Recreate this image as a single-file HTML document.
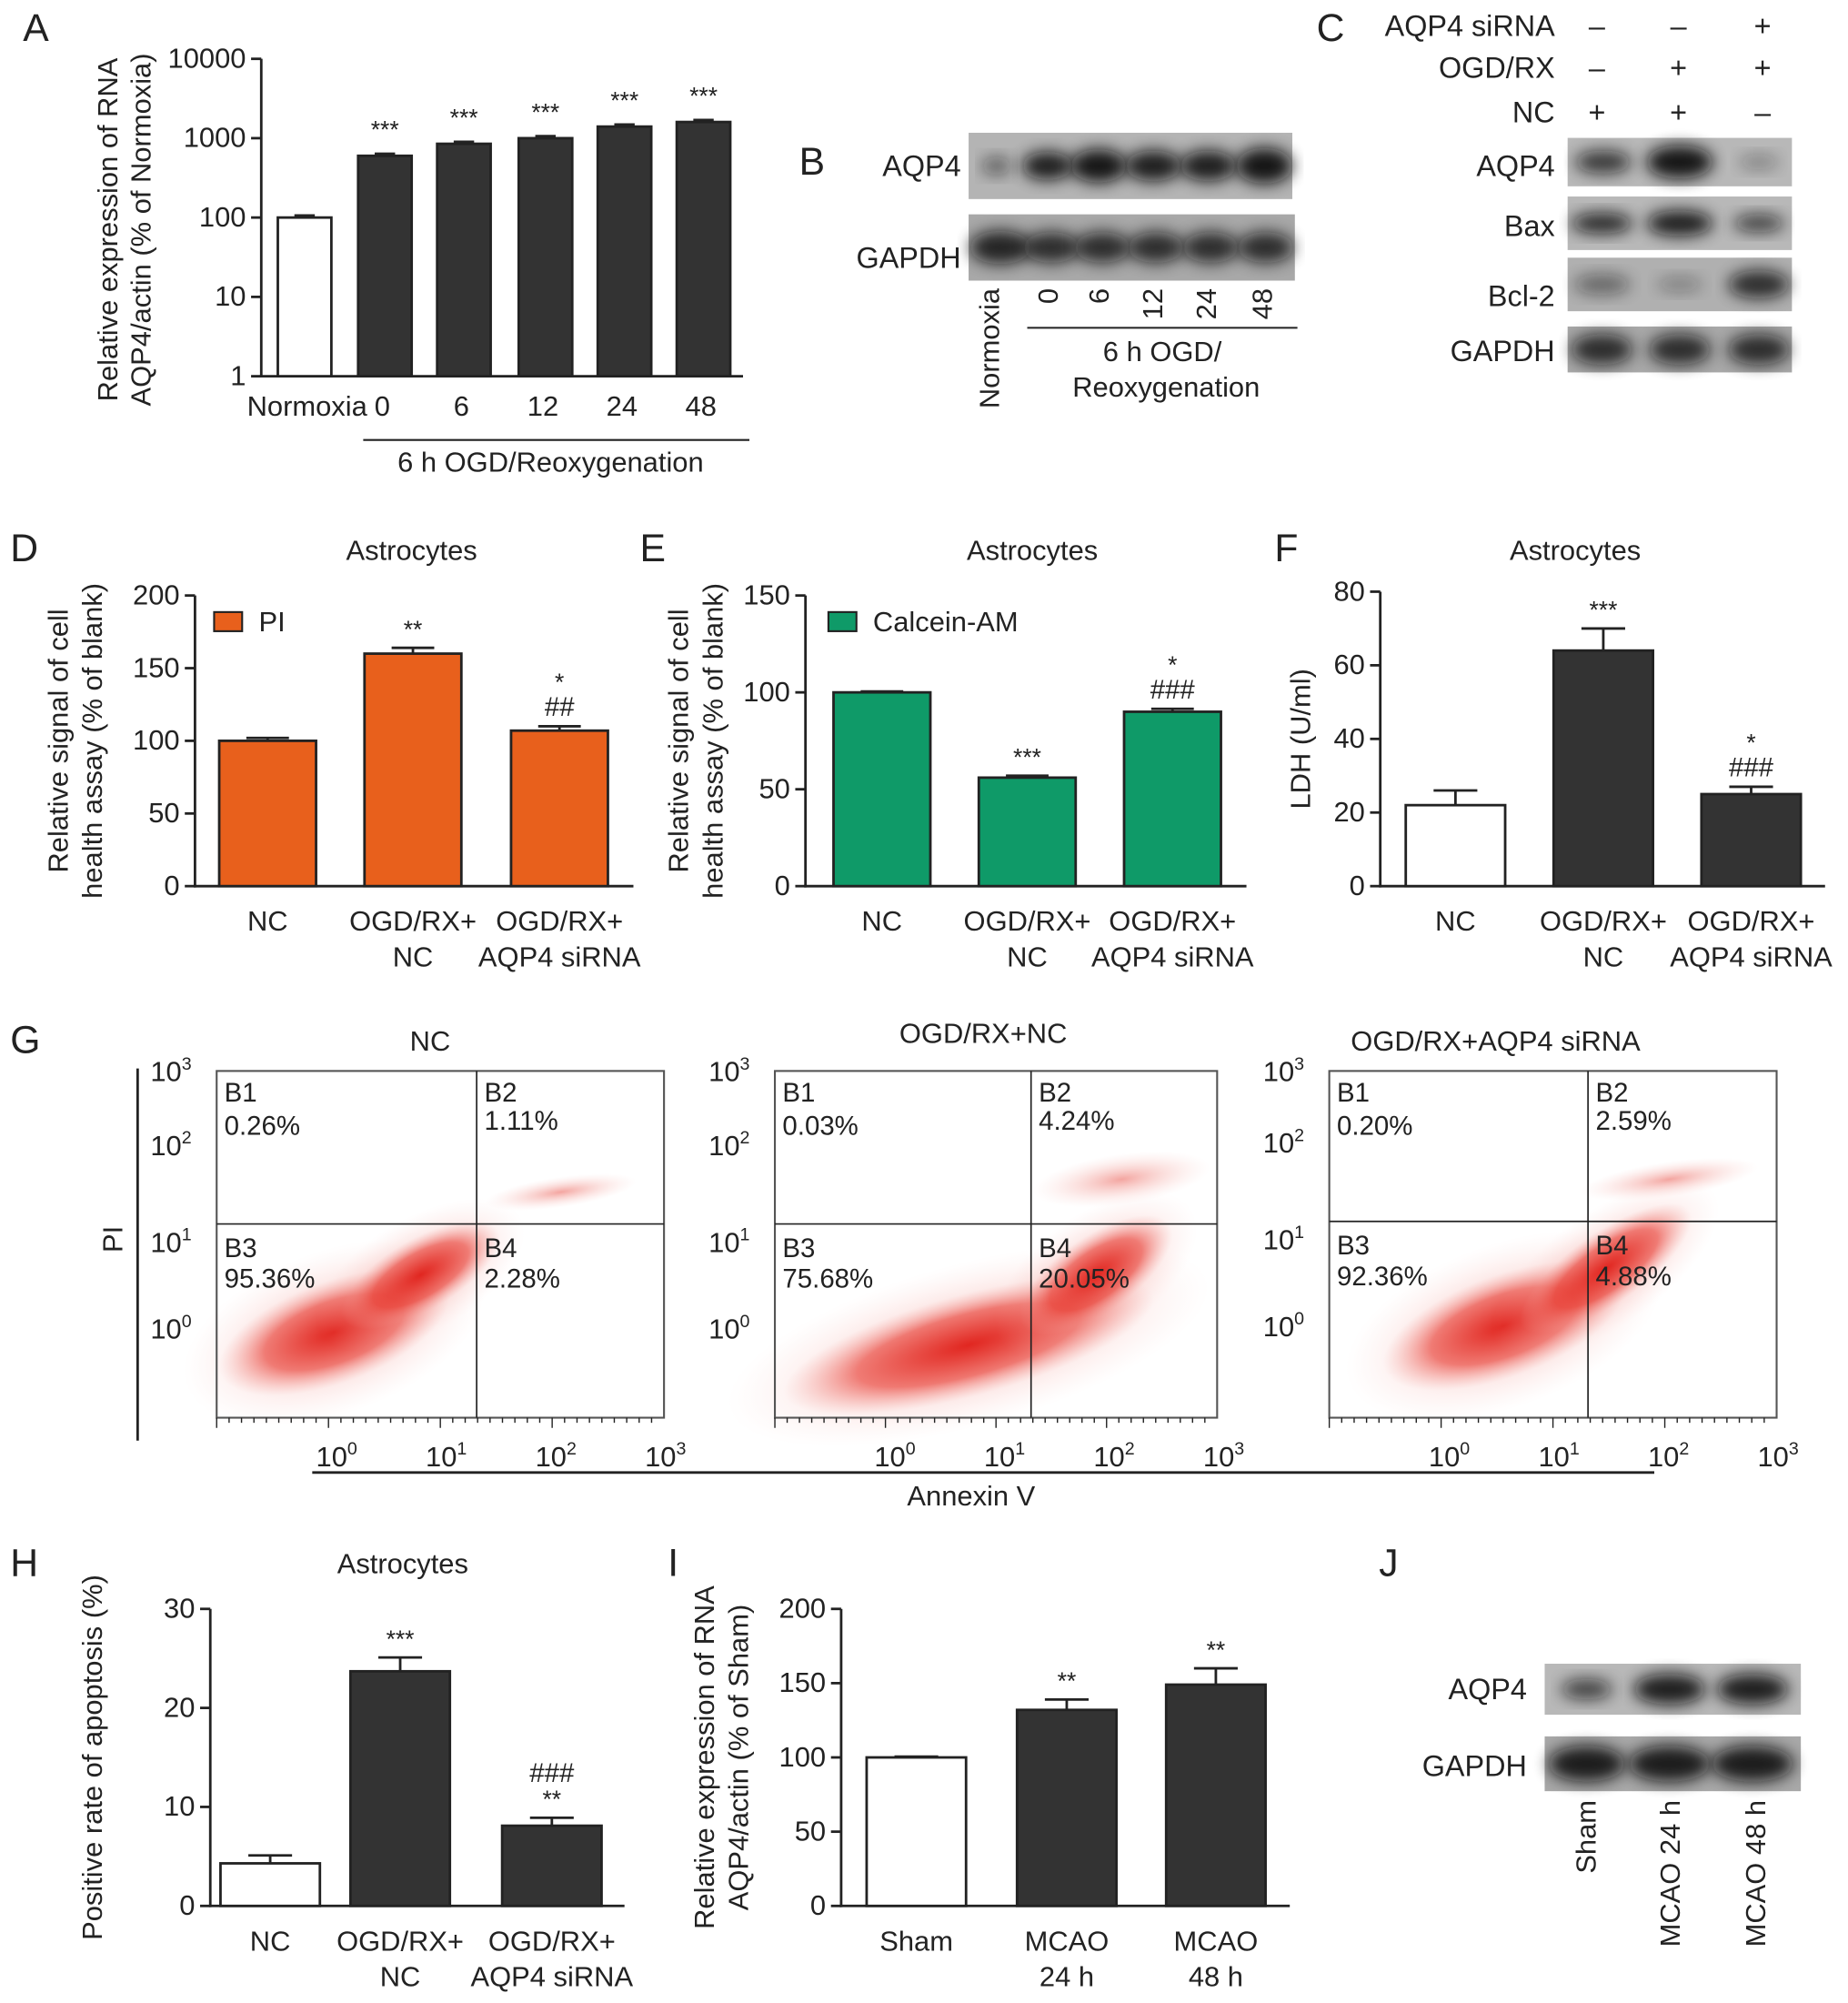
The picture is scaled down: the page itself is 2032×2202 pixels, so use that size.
<!DOCTYPE html>
<html><head><meta charset="utf-8"><style>
html,body{margin:0;padding:0;background:#fff}
svg{display:block}
text{font-family:"Liberation Sans",sans-serif;fill:#222}
</style></head><body>
<svg id="fig" width="2032" height="2202" viewBox="0 0 1450 1571" xmlns="http://www.w3.org/2000/svg">
<defs>
<filter id="blur" x="-20%" y="-50%" width="140%" height="200%"><feGaussianBlur stdDeviation="6"/></filter>
<radialGradient id="red1"><stop offset="0" stop-color="#e0201a" stop-opacity="0.95"/><stop offset="0.6" stop-color="#e83a30" stop-opacity="0.6"/><stop offset="1" stop-color="#f4a09a" stop-opacity="0"/></radialGradient>
<radialGradient id="red2"><stop offset="0" stop-color="#e84a40" stop-opacity="0.5"/><stop offset="1" stop-color="#f8c0bb" stop-opacity="0"/></radialGradient>
</defs>
<g id="root"></g>
</svg>
<script>
// ---------- data ----------
const aCats = ["Normoxia","0","6","12","24","48"];
const aVals = [100,600,850,1000,1400,1600];
const aStars = ["","***","***","***","***","***"];
const dCats = [["NC"],["OGD/RX+","NC"],["OGD/RX+","AQP4 siRNA"]];
const dVals = [100,160,107];
const dErr = [2,4,3];
const dMarks = [[],["**"],["*","##"]];
const eVals = [100,56,90];
const eErr = [0.5,1,1.5];
const eMarks = [[],["***"],["*","###"]];
const fVals = [22,64,25];
const fErr = [4,6,2];
const fMarks = [[],["***"],["*","###"]];
const hVals = [4.3,23.7,8.1];
const hErr = [0.8,1.4,0.8];
const hMarks = [[],["***"],["###","**"]];
const iCats = [["Sham"],["MCAO","24 h"],["MCAO","48 h"]];
const iVals = [100,132,149];
const iErr = [0.5,7,11];
const iMarks = [[],["**"],["**"]];
const dTicks = [0,50,100,150,200];
const eTicks = [0,50,100,150];
const fTicks = [0,20,40,60,80];
const hTicks = [0,10,20,30];
const iTicks = [0,50,100,150,200];
const gTitles = ["NC","OGD/RX+NC","OGD/RX+AQP4 siRNA"];
const gQuads = [["0.26%","1.11%","95.36%","2.28%"],["0.03%","4.24%","75.68%","20.05%"],["0.20%","2.59%","92.36%","4.88%"]];

const NS="http://www.w3.org/2000/svg";
const root=document.getElementById('root');
function el(tag,attrs,parent,txt){const e=document.createElementNS(NS,tag);for(const k in attrs)e.setAttribute(k,attrs[k]);if(txt!==undefined)e.textContent=txt;(parent||root).appendChild(e);return e;}
function txt(x,y,s,size,anchor,parent,name,rot){const t=el('text',{x:x,y:y,'font-size':(size||21)*1.05,'text-anchor':anchor||'middle'},parent,s);


if(rot)t.setAttribute('transform','rotate('+rot+' '+x+' '+y+')');return t;}
function line(x1,y1,x2,y2,w,parent){return el('line',{x1:x1,y1:y1,x2:x2,y2:y2,stroke:'#222','stroke-width':w||2},parent);}

// panel letters
[["A",18,32],["B",627,137],["C",1033,32],["D",8,440],["E",502,440],["F",1000,440],["G",8,826],["H",8,1236],["I",524,1236],["J",1082,1236]].forEach(p=>{txt(p[1],p[2],p[0],29,'start',root,'panel-letter-'+p[0].toLowerCase());});

// ---------- Panel A (log) ----------
(function(){
 const g=el('g',{});
 
 
 const x0=205,yb=295,yt=46,lmin=0,lmax=4;
 const y=v=>yb-(Math.log10(v)-lmin)/(lmax-lmin)*(yb-yt);
 const xc=[239,302,364,428,490,552], bw=42;
 line(x0,yt,x0,yb+1,2,g); line(x0-1,yb,583,yb,2,g);
 [1,10,100,1000,10000].forEach(v=>{line(x0-8,y(v),x0,y(v),2,g);txt(x0-12,y(v)+7,String(v),21,'end',g,'y-tick-label');});
 aVals.forEach((v,i)=>{
  const r=el('rect',{x:xc[i]-bw/2,y:y(v),width:bw,height:yb-y(v),fill:i==0?'#fff':'#333',stroke:'#222','stroke-width':2},g);
  
  
  line(xc[i]-8,y(v*1.06),xc[i]+8,y(v*1.06),2,g);
  if(aStars[i])txt(xc[i],y(v)-14,aStars[i],18,'middle',g,'significance');
  txt(i==0?xc[i]+2:xc[i]-2,326,aCats[i],21,'middle',g,'x-tick-label');
 });
 line(285,345,588,345,1.5,g);
 txt(432,370,'6 h OGD/Reoxygenation',21,'middle',g,'x-axis-group-label');
 txt(92,180,'Relative expression of RNA',21,'middle',g,'y-axis-title',-90);
 txt(118,180,'AQP4/actin (% of Normoxia)',21,'middle',g,'y-axis-title',-90);
})();

// ---------- blots ----------
function blot(x,y,w,h,bands,bg,name){
 const g=el('g',{});
 
 
 el('rect',{x:x,y:y,width:w,height:h,fill:bg},g);
 bands.forEach(b=>{el('ellipse',{cx:b[0],cy:y+h/2,rx:b[1],ry:b[2],fill:'#111',opacity:b[3],filter:'url(#blur)'},g);});
 return g;
}
blot(760,104,254,52,[[782,12,7,0.5],[822,20,11,0.9],[862,22,13,0.95],[905,22,12,0.9],[948,22,12,0.9],[992,22,14,0.95]],'#b4b4b4','blot-b-aqp4');
blot(760,168,256,52,[[785,24,13,0.85],[825,22,12,0.8],[865,22,12,0.8],[907,22,12,0.8],[950,22,12,0.8],[993,22,12,0.8]],'#a8a8a8','blot-b-gapdh');
txt(754,138,'AQP4',22,'end',root,'blot-label');
txt(754,210,'GAPDH',22,'end',root,'blot-label');
["Normoxia","0","6","12","24","48"].forEach((s,i)=>{const xs=[784,830,870,912,954,998];txt(xs[i],226,s,21,'end',root,'lane-label',-90);});
line(806,257,1018,257,1.5);
txt(912,283,'6 h OGD/',21,'middle',root,'lane-group-label');
txt(915,311,'Reoxygenation',21,'middle',root,'lane-group-label');

// Panel C
[["AQP4 siRNA",28,["–","–","+"]],["OGD/RX",61,["–","+","+"]],["NC",96,["+","+","–"]]].forEach(r=>{
 txt(1220,r[1],r[0],22,'end',root,'condition-label');
 r[2].forEach((s,i)=>txt([1253,1317,1383][i],r[1],s,22,'middle',root,'condition-sign'));
});
blot(1230,108,176,38,[[1258,22,9,0.75],[1318,26,13,0.95],[1380,16,6,0.3]],'#b8b8b8','blot-c-aqp4');
blot(1230,154,176,42,[[1257,24,8,0.85],[1318,26,10,0.9],[1380,20,7,0.7]],'#b8b8b8','blot-c-bax');
blot(1230,202,176,42,[[1257,22,8,0.45],[1318,18,6,0.3],[1380,24,11,0.8]],'#b0b0b0','blot-c-bcl2');
blot(1230,256,176,36,[[1257,24,12,0.8],[1318,24,12,0.8],[1380,24,12,0.8]],'#a8a8a8','blot-c-gapdh');
txt(1220,138,'AQP4',22,'end',root,'blot-label');
txt(1220,185,'Bax',22,'end',root,'blot-label');
txt(1220,240,'Bcl-2',22,'end',root,'blot-label');
txt(1220,283,'GAPDH',22,'end',root,'blot-label');

// ---------- generic bar chart ----------
function barChart(o){
 const g=el('g',{});
 
 
 const y=v=>o.yb-(v/o.max)*(o.yb-o.yt);
 line(o.x0,y(o.max),o.x0,o.yb+1,2,g); line(o.x0-1,o.yb,o.x1,o.yb,2,g);
 o.ticks.forEach(v=>{line(o.x0-8,y(v),o.x0,y(v),2,g);txt(o.x0-12,y(v)+7,String(v),21,'end',g,'y-tick-label');});
 o.vals.forEach((v,i)=>{
  const xc=o.xc[i];
  line(xc,y(v),xc,y(v+o.err[i]),2,g);
  line(xc-o.bw*0.22,y(v+o.err[i]),xc+o.bw*0.22,y(v+o.err[i]),2,g);
  const r=el('rect',{x:xc-o.bw/2,y:y(v),width:o.bw,height:o.yb-y(v),fill:o.fills[i],stroke:'#222','stroke-width':2},g);
  
  
  const m=o.marks[i];
  m.forEach((s,k)=>{txt(xc,y(v+o.err[i])-8-(m.length-1-k)*20,s,s.indexOf('#')>=0?20:18,'middle',g,'significance');});
  o.cats[i].forEach((s,k)=>txt(xc,o.yb+35+k*28,s,21,'middle',g,'x-tick-label'));
 });
 if(o.title)txt(o.titleX,439,o.title,21,'middle',g,'chart-title');
 o.ylab.forEach((s,k)=>txt(o.ylabX+k*27,(o.yt+o.yb)/2,s,21,'middle',g,'y-axis-title',-90));
 return g;
}
barChart({name:'panel-d-chart',x0:153,x1:497,yb:695,yt:467,max:200,ticks:dTicks,vals:dVals,err:dErr,marks:dMarks,cats:dCats,xc:[210,324,439],bw:76,fills:['#e8601c','#e8601c','#e8601c'],title:'Astrocytes',titleX:323,ylab:['Relative signal of cell','health assay (% of blank)'],ylabX:53});
el('rect',{x:168,y:480,width:22,height:15,fill:'#e8601c',stroke:'#222','stroke-width':1.5});
txt(203,495,'PI',21,'start',root,'legend-entry-pi');
barChart({name:'panel-e-chart',x0:632,x1:978,yb:695,yt:467,max:150,ticks:eTicks,vals:eVals,err:eErr,marks:eMarks,cats:dCats,xc:[692,806,920],bw:76,fills:['#0f9a68','#0f9a68','#0f9a68'],title:'Astrocytes',titleX:810,ylab:['Relative signal of cell','health assay (% of blank)'],ylabX:540});
el('rect',{x:650,y:480,width:22,height:15,fill:'#0f9a68',stroke:'#222','stroke-width':1.5});
txt(685,495,'Calcein-AM',21,'start',root,'legend-entry-calcein');
barChart({name:'panel-f-chart',x0:1083,x1:1432,yb:695,yt:464,max:80,ticks:fTicks,vals:fVals,err:fErr,marks:fMarks,cats:dCats,xc:[1142,1258,1374],bw:78,fills:['#fff','#333','#333'],title:'Astrocytes',titleX:1236,ylab:['LDH (U/ml)'],ylabX:1028});
barChart({name:'panel-h-chart',x0:165,x1:490,yb:1495,yt:1262,max:30,ticks:hTicks,vals:hVals,err:hErr,marks:hMarks,cats:dCats,xc:[212,314,433],bw:78,fills:['#fff','#333','#333'],title:null,ylab:['Positive rate of apoptosis (%)'],ylabX:80});
txt(316,1234,'Astrocytes',21,'middle',root,'chart-title');
barChart({name:'panel-i-chart',x0:660,x1:1012,yb:1495,yt:1262,max:200,ticks:iTicks,vals:iVals,err:iErr,marks:iMarks,cats:iCats,xc:[719,837,954],bw:78,fills:['#fff','#333','#333'],title:null,ylab:['Relative expression of RNA','AQP4/actin (% of Sham)'],ylabX:560});

// ---------- Panel G flow plots ----------
const gBoxes=[[170,521,840,1112,374,960],[608,955,840,1112,809,960],[1043,1394,840,1112,1246,958]];
const gBlobs=[[[262,1045,95,40,-20],[330,1000,70,28,-30]],[[760,1055,150,40,-15],[860,1000,70,30,-35]],[[1180,1040,100,40,-20],[1260,995,80,28,-35]]];
const gUpper=[[440,935,60,12],[880,925,70,20],[1310,925,70,14]];
gBoxes.forEach((b,p)=>{
 const g=el('g',{});
 
 
 const [l,r,t,bt,qx,qy]=b;
 gBlobs[p].forEach(e=>{el('ellipse',{cx:e[0],cy:e[1],rx:e[2]*1.3,ry:e[3]*1.6,fill:'url(#red2)',transform:'rotate('+e[4]+' '+e[0]+' '+e[1]+')'},g);
  el('ellipse',{cx:e[0],cy:e[1],rx:e[2],ry:e[3],fill:'url(#red1)',transform:'rotate('+e[4]+' '+e[0]+' '+e[1]+')'},g);});
 const u=gUpper[p];el('ellipse',{cx:u[0],cy:u[1],rx:u[2],ry:u[3],fill:'url(#red2)',transform:'rotate(-8 '+u[0]+' '+u[1]+')'},g);
 el('rect',{x:l,y:t,width:r-l,height:bt-t,fill:'none',stroke:'#555','stroke-width':1.5},g);
 line(qx,t,qx,bt,1.2,g); line(l,qy,r,qy,1.2,g);
 const q=gQuads[p];
 txt(l+6,t+24,'B1',20,'start',g,'quadrant-label');txt(l+6,t+50,q[0],20,'start',g,'quadrant-value');
 txt(qx+6,t+24,'B2',20,'start',g,'quadrant-label');txt(qx+6,t+46,q[1],20,'start',g,'quadrant-value');
 txt(l+6,qy+26,'B3',20,'start',g,'quadrant-label');txt(l+6,qy+50,q[2],20,'start',g,'quadrant-value');
 txt(qx+6,qy+26,'B4',20,'start',g,'quadrant-label');txt(qx+6,qy+50,q[3],20,'start',g,'quadrant-value');
 txt((l+r)/2+(p==0?-8:p==1?-10:-45),t-16+(p==1?-6:0),gTitles[p],21,'middle',g,'flow-title');
 [[t+8,'3'],[qy-54,'2'],[qy+22,'1'],[qy+90,'0']].forEach(a=>{const tt=txt(l-52,a[0],'10',21,'start',g,'y-tick-label');el('tspan',{dy:-9,'font-size':14},tt,a[1]);});
 for(let k=0;k<4;k++){const xx=l+90+k*86;const tt=txt(xx-12,bt+38,'10',21,'start',g,'x-tick-label');el('tspan',{dy:-9,'font-size':14},tt,String(k));}
 for(let k=0;k<36;k++){const xx=l+k*(r-l)/36;line(xx,bt,xx,bt+(k%9==0?8:4),1,g);}
});
line(108,838,108,1130,2);
txt(96,972,'PI',21,'middle',root,'flow-y-axis-title',-90);
line(245,1155,1298,1155,2);
txt(762,1181,'Annexin V',21,'middle',root,'flow-x-axis-title');

// ---------- Panel J ----------
blot(1212,1305,201,40,[[1245,20,8,0.7],[1310,28,12,0.9],[1375,28,12,0.9]],'#b8b8b8','blot-j-aqp4');
blot(1212,1362,201,43,[[1245,30,14,0.9],[1310,32,14,0.9],[1375,32,14,0.9]],'#a8a8a8','blot-j-gapdh');
txt(1198,1333,'AQP4',22,'end',root,'blot-label');
txt(1198,1393,'GAPDH',22,'end',root,'blot-label');
[["Sham",1252],["MCAO 24 h",1318],["MCAO 48 h",1385]].forEach(a=>txt(a[1],1412,a[0],21,'end',root,'lane-label',-90));
</script>
</body></html>
